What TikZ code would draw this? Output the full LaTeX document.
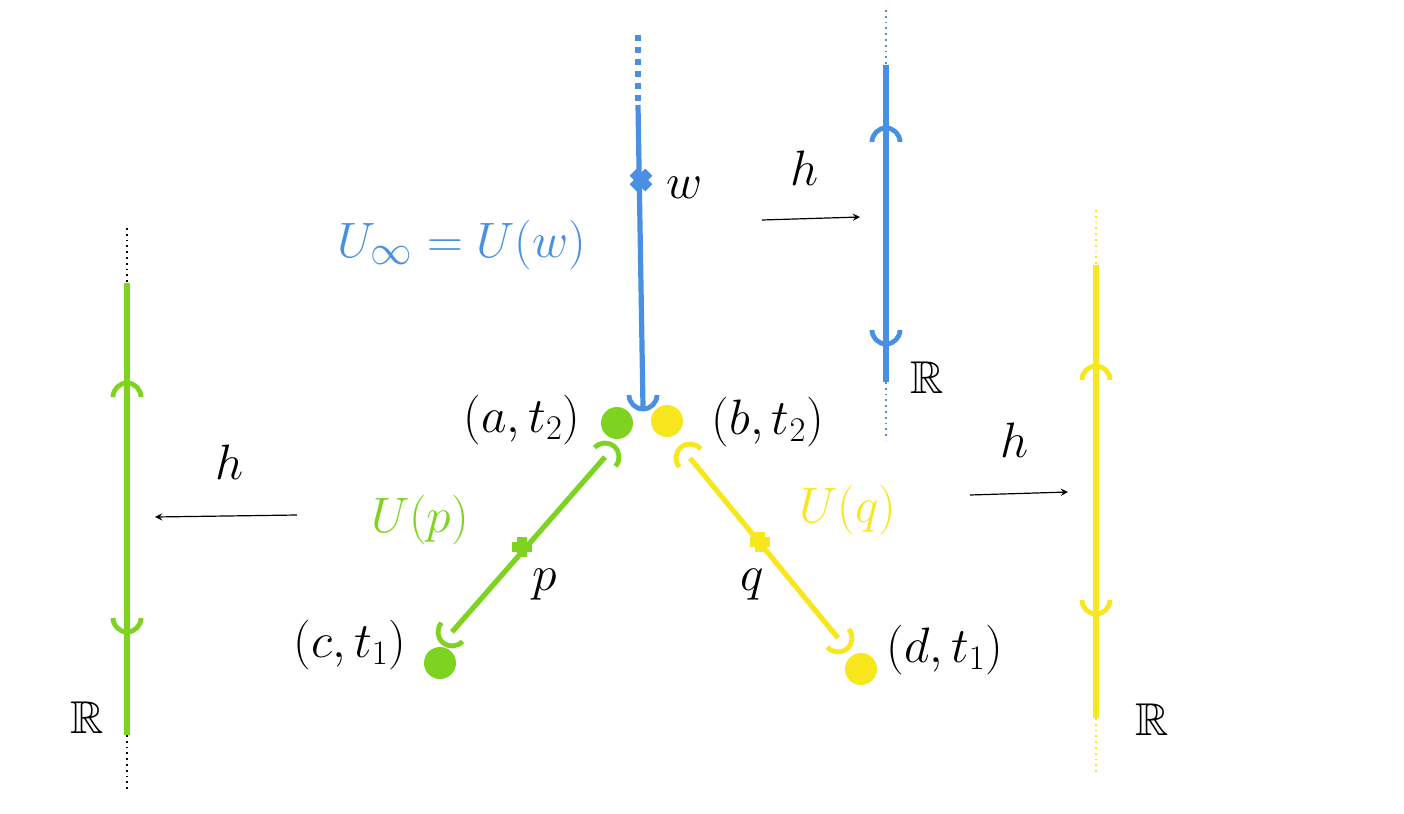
\documentclass[tikz,border=0pt]{standalone}
\usepackage{amssymb}
\usetikzlibrary{calc}
\begin{document}
\begin{tikzpicture}[x=0.5pt,y=-0.5pt]
\definecolor{bl}{HTML}{4A90E2}
\definecolor{gr}{HTML}{7ED321}
\definecolor{ye}{HTML}{F8E71C}
\tikzset{ln/.style={line width=2.6pt},dots/.style={line width=0.9pt,dotted},
 lab/.style={font=\fontsize{23}{28}\selectfont},big/.style={font=\fontsize{30}{36}\selectfont},arr/.style={-stealth,line width=0.6pt}}
\newcommand{\opn}[4]{\draw[#1,line width=2.4pt] ($(#2)+(#3+90:14)$) arc[start angle=#3+90,end angle=#3-90,radius=14];}
\newcommand{\mrk}[2]{\fill[#1] (#2) ++(-10,-5) rectangle ++(20,10); \fill[#1] (#2) ++(-5,-10) rectangle ++(10,20);}
\useasboundingbox (0,0) rectangle (1404,814);
% blue center
\coordinate (b0) at (638,35); \coordinate (b1) at (638,105); \coordinate (b2) at (643,407);
\draw[bl,line width=2.6pt,dash pattern=on 3pt off 3pt] (b0)--(b1);
\draw[bl,ln] (b1)--(b2);
\coordinate (bw) at (641,180); \fill[bl,rotate around={45:(bw)}] (bw) ++(-11,-5) rectangle ++(22,10);
\fill[bl,rotate around={45:(bw)}] (bw) ++(-5,-11) rectangle ++(10,22);
\node[lab] at (685,188) {$w$};
\node[bl,big] at (462,245) {$U_\infty = U(w)$};
\coordinate (ba) at (643,395); \opn{bl}{ba}{90}{}
% dots
\node[circle,fill=gr,minimum size=16pt,inner sep=0] (A) at (617,423) {};
\node[circle,fill=ye,minimum size=16pt,inner sep=0] (B) at (667,421) {};
\node[lab] at (522,420) {$(a,t_2)$};
\node[lab] at (768,422) {$(b,t_2)$};
\node[circle,fill=gr,minimum size=16pt,inner sep=0] (C) at (440,663) {};
\node[lab] at (350,645) {$(c,t_1)$};
\node[circle,fill=ye,minimum size=16pt,inner sep=0] (D) at (861,669) {};
\node[lab] at (945,650) {$(d,t_1)$};
% green diagonal
\coordinate (g1) at (452,632); \coordinate (g2) at (605,457);
\draw[gr,ln] (g1)--(g2); \opn{gr}{g2}{-48.3}{} \opn{gr}{g1}{131.7}{}
\coordinate (gp) at (522,547); \mrk{gr}{gp}
\node[lab] at (545,585) {$p$};
\node[gr,big] at (420,520) {$U(p)$};
% yellow diagonal
\coordinate (y1) at (690,458); \coordinate (y2) at (838,638);
\draw[ye,ln] (y1)--(y2); \opn{ye}{y1}{230}{} \opn{ye}{y2}{50}{}
\coordinate (yq) at (760,542); \mrk{ye}{yq}
\node[lab] at (752,585) {$q$};
\node[ye,big] at (848,510) {$U(q)$};
% left green line
\coordinate (l0) at (127,228); \coordinate (l1) at (127,283); \coordinate (l2) at (127,735); \coordinate (l3) at (127,790);
\draw[dots] (l0)--(l1); \draw[dots] (l2)--(l3); \draw[gr,ln] (l1)--(l2);
\coordinate (la) at (127,397); \coordinate (lb) at (127,618);
\opn{gr}{la}{-90}{} \opn{gr}{lb}{90}{}
\node[lab] at (87,718) {$\mathbb{R}$};
\coordinate (h1s) at (297,515); \coordinate (h1e) at (155,517);
\draw[arr] (h1s)--(h1e); \node[lab] at (230,462) {$h$};
% right blue line
\coordinate (r0) at (886,10); \coordinate (r1) at (886,65); \coordinate (r2) at (886,382); \coordinate (r3) at (886,440);
\draw[bl,dots] (r0)--(r1); \draw[bl,dots] (r2)--(r3); \draw[bl,ln] (r1)--(r2);
\coordinate (ra) at (886,142); \coordinate (rb) at (886,330);
\opn{bl}{ra}{-90}{} \opn{bl}{rb}{90}{}
\node[lab] at (927,378) {$\mathbb{R}$};
\coordinate (h2s) at (762,220); \coordinate (h2e) at (860,217);
\draw[arr] (h2s)--(h2e); \node[lab] at (805,168) {$h$};
% right yellow line
\coordinate (s0) at (1096,210); \coordinate (s1) at (1096,265); \coordinate (s2) at (1096,718); \coordinate (s3) at (1096,775);
\draw[ye,dots] (s0)--(s1); \draw[ye,dots] (s2)--(s3); \draw[ye,ln] (s1)--(s2);
\coordinate (sa) at (1096,380); \coordinate (sb) at (1096,600);
\opn{ye}{sa}{-90}{} \opn{ye}{sb}{90}{}
\node[lab] at (1152,720) {$\mathbb{R}$};
\coordinate (h3s) at (970,495); \coordinate (h3e) at (1068,492);
\draw[arr] (h3s)--(h3e); \node[lab] at (1015,440) {$h$};
\end{tikzpicture}
\end{document}
